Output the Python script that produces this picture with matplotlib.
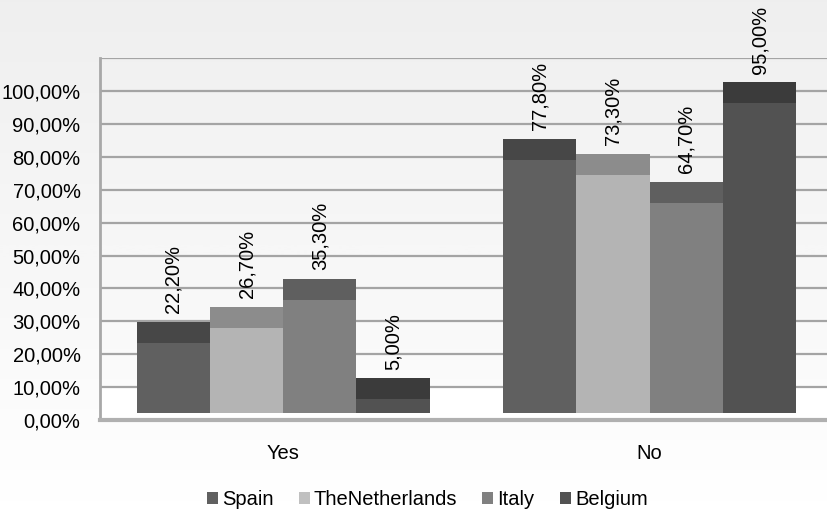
import numpy as np
import matplotlib.pyplot as plt
from matplotlib.patches import Patch

plt.rcParams['font.family'] = ['Liberation Sans', 'DejaVu Sans']
plt.rcParams['font.size'] = 14.5

categories = ['Yes', 'No']
countries = ['Spain', 'TheNetherlands', 'Italy', 'Belgium']
spain = [22.2, 77.8]
netherlands = [26.7, 73.3]
italy = [35.3, 64.7]
belgium = [5.0, 95.0]
yticks = [0, 10, 20, 30, 40, 50, 60, 70, 80, 90, 100]
ytick_labels = ['0,00%', '10,00%', '20,00%', '30,00%', '40,00%', '50,00%',
                '60,00%', '70,00%', '80,00%', '90,00%', '100,00%']

series = [spain, netherlands, italy, belgium]
front_colors = ['#606060', '#b4b4b4', '#808080', '#525252']
cap_colors = ['#474747', '#8c8c8c', '#5f5f5f', '#3b3b3b']

fig = plt.figure(figsize=(8.28, 5.16), dpi=100)

# background gradient
bg = fig.add_axes([0, 0, 1, 1], zorder=-10)
grad = np.linspace(0, 1, 256).reshape(-1, 1)
bg.imshow(grad, aspect='auto', cmap='Greys_r', vmin=-6.5, vmax=1.0,
          extent=[0, 1, 0, 1], origin='upper')
bg.axis('off')

ax = fig.add_axes([0.1208, 0.186, 0.885, 0.7014])
ax.patch.set_alpha(0)
ax.set_xlim(-0.5, 1.5)
ax.set_ylim(0, 110)

# floor band
ax.axhspan(0, 10, color='white', zorder=0)
for yv in yticks[1:] + [110]:
    ax.axhline(yv, color='#a4a4a4', lw=1.6, zorder=1)

x = np.arange(len(categories))
w = 0.2
base = 2.0
for i, (vals, fc, cc) in enumerate(zip(series, front_colors, cap_colors)):
    xs = x + (i - 1.5) * w
    vals = np.array(vals)
    ax.bar(xs, vals + 1.3 - base, w, bottom=base, color=fc, zorder=3,
           edgecolor='none')
    ax.bar(xs, np.full(len(vals), 6.4), w, bottom=vals + 1.3, color=cc,
           zorder=3, edgecolor='none')
    for xi, v in zip(xs, vals):
        ax.text(xi, v + 10.3, f'{v:.2f}%'.replace('.', ','), rotation=90,
                ha='center', va='bottom', zorder=5)

ax.set_yticks(yticks)
ax.set_yticklabels(ytick_labels)
ax.set_xticks(x)
ax.set_xticklabels(categories)
ax.tick_params(axis='both', length=0)
ax.tick_params(axis='y', pad=14)
ax.tick_params(axis='x', pad=17)

for s in ['top', 'right']:
    ax.spines[s].set_visible(False)
ax.spines['left'].set_color('#a8a8a8')
ax.spines['left'].set_linewidth(2)
ax.spines['bottom'].set_color('#b0b0b0')
ax.spines['bottom'].set_linewidth(3)

handles = [Patch(facecolor=c, edgecolor='none') for c in front_colors]
handles[1] = Patch(facecolor='#c0c0c0', edgecolor='none')
fig.legend(handles, countries, loc='lower center', bbox_to_anchor=(0.516, -0.022),
           ncol=4, frameon=False, handlelength=0.55, handleheight=0.55,
           handletextpad=0.2, columnspacing=1.25)

fig.savefig('out.png', dpi=100)
